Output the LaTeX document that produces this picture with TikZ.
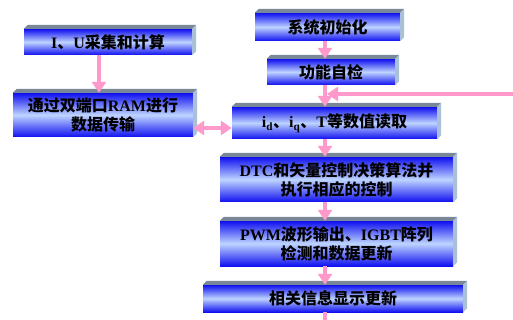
\documentclass[tikz,border=0pt]{standalone}
\usepackage{fontspec}
\setmainfont{Liberation Serif}
\newfontfamily\cjk{Noto Sans CJK SC}
\usetikzlibrary{arrows.meta,calc}
\newcommand\zh[1]{{\cjk\bfseries #1}}
\definecolor{pk}{RGB}{255,153,204}
\definecolor{bdark}{RGB}{16,16,240}
\definecolor{blight}{RGB}{190,212,255}
\definecolor{bevtopc}{RGB}{120,136,152}
\definecolor{bevsidec}{RGB}{170,192,216}
\tikzset{
  box/.style={rectangle, inner sep=0pt, anchor=center, top color=bdark, bottom color=bdark, middle color=blight,
    font=\fontsize{16}{19}\selectfont\bfseries, align=center, text=black},
  pinkline/.style={draw=pk, line width=4pt},
  parrow/.style={pinkline, -{Triangle[width=14pt,length=11pt]}},
  pdarrow/.style={pinkline, {Triangle[width=14pt,length=11pt]}-{Triangle[width=14pt,length=11pt]}},
}
\newcommand\bevel[1]{%
  \fill[bevtopc] (#1.north west) -- ++(4,-4) -- ($(#1.north east)+(4,-4)$) -- (#1.north east) -- cycle;
  \fill[bevsidec] (#1.north east) -- ++(4,-4) -- ($(#1.south east)+(4,-4)$) -- (#1.south east) -- cycle;}
\begin{document}
\begin{tikzpicture}[x=1pt,y=-1pt]
\useasboundingbox[fill=white] (0,0) rectangle (513,320);
\node[box, minimum width=168pt, minimum height=26pt] (b1) at (108,42) {I\zh{、}U\zh{采集和计算}};
\node[box, minimum width=180pt, minimum height=44pt] (b2) at (103,115) {\zh{通过双端口}RAM\zh{进行}\\\zh{数据传输}};
\node[box, minimum width=145pt, minimum height=28pt] (s1) at (327.5,27) {\zh{系统初始化}};
\node[box, minimum width=128pt, minimum height=26pt] (s2) at (331,72) {\zh{功能自检}};
\node[box, minimum width=205pt, minimum height=32pt] (s3) at (334.5,123) {i\textsubscript{d}\zh{、}i\textsubscript{q}\zh{、}T\zh{等数值读取}};
\node[box, minimum width=233pt, minimum height=45pt] (s4) at (336.5,179.5) {DTC\zh{和矢量控制决策算法并}\\\zh{执行相应的控制}};
\node[box, minimum width=233pt, minimum height=45pt] (s5) at (336.5,243.5) {PWM\zh{波形输出、}IGBT\zh{阵列}\\\zh{检测和数据更新}};
\node[box, minimum width=260pt, minimum height=27pt] (s6) at (333,298.5) {\zh{相关信息显示更新}};
\foreach \n in {b1,b2,s1,s2,s3,s4,s5,s6}{\bevel{\n}}
\coordinate (col) at (325,0);
\coordinate (fb) at (513,94);
\coordinate (fbin) at (327,94);
\coordinate (dy) at (0,128);
\coordinate (bot) at (325,320);
\draw[parrow] (b1.south -| 99,0) -- (b2.north -| 99,0);
\draw[parrow] (s1.south -| col) -- (s2.north -| col);
\draw[parrow] (s2.south -| col) -- (s3.north -| col);
\draw[parrow] (fb) -- (fbin);
\draw[parrow] (s3.south -| col) -- (s4.north -| col);
\draw[parrow] (s4.south -| col) -- (s5.north -| col);
\draw[parrow] (s5.south -| col) -- (s6.north -| col);
\draw[pinkline] (s6.south -| col) -- (bot);
\draw[pdarrow] (b2.east |- dy) -- (s3.west |- dy);
\end{tikzpicture}
\end{document}
